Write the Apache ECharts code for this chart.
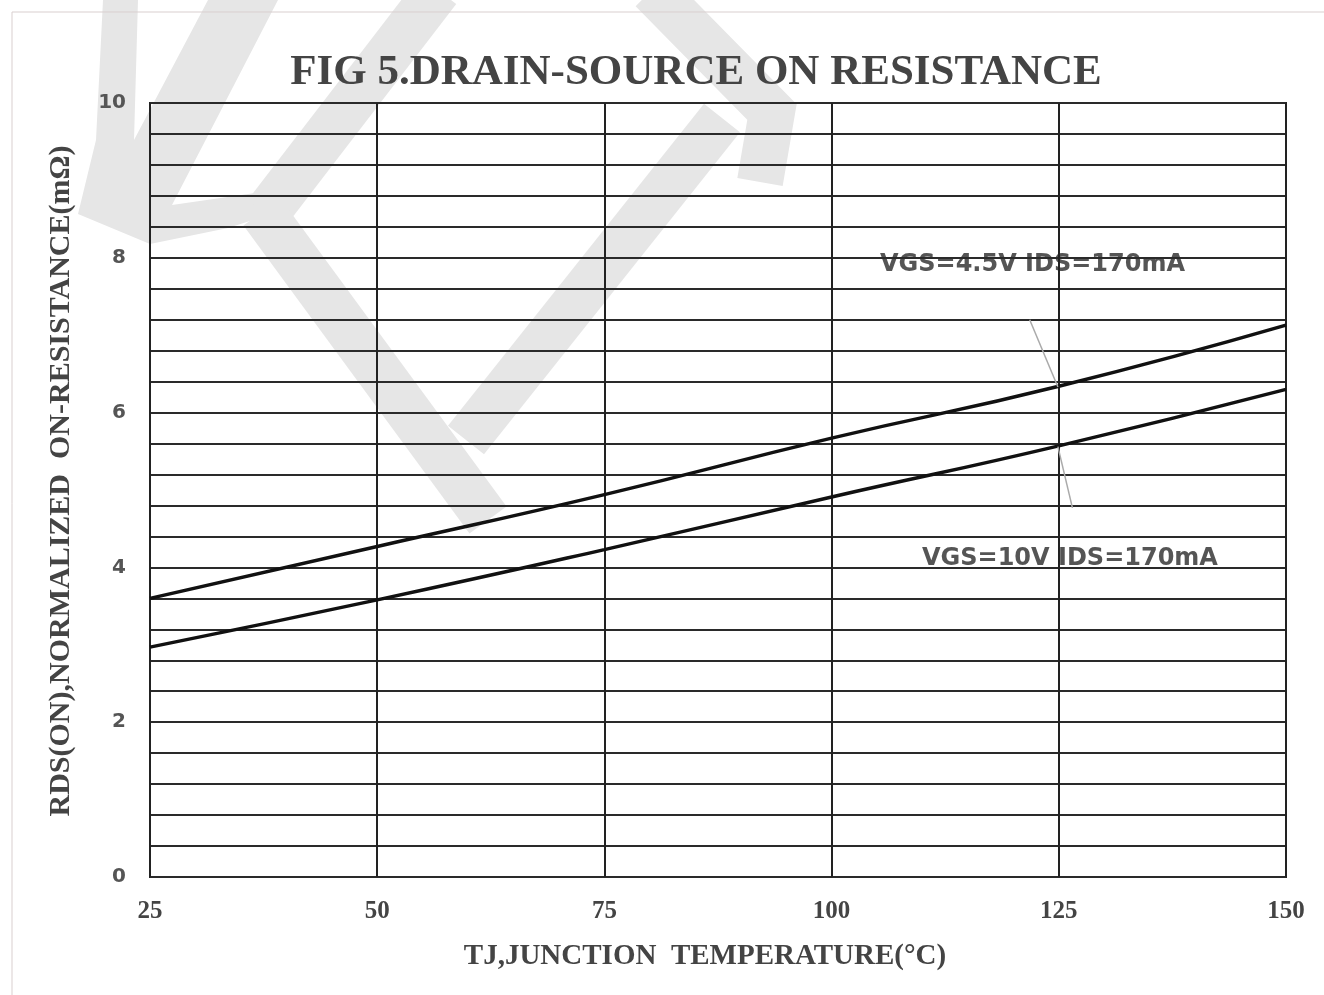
<!DOCTYPE html>
<html>
<head>
<meta charset="utf-8">
<title>FIG 5 Drain-Source On Resistance</title>
<script src="https://cdn.jsdelivr.net/npm/echarts@6/dist/echarts.min.js"></script>
<style>
  html, body { margin: 0; padding: 0; background: #fff; }
  #chart { width: 1324px; height: 995px; }
</style>
</head>
<body>
<div id="chart"></div>
<script>
// junction temperature (°C)
const temps = [25, 50, 75, 100, 125, 150]
// RDS(ON) (mΩ)
const rdsVgs45 = [3.60, 4.27, 4.94, 5.67, 6.34, 7.13]
const rdsVgs10 = [2.97, 3.58, 4.23, 4.91, 5.57, 6.30]
// leader lines from the labels to the curves
const leader45 = [[121.8, 7.20], [124.9, 6.33]]
const leader10 = [[124.9, 5.56], [126.5, 4.77]]

const yLabels = [0, 2, 4, 6, 8, 10]

const chart = echarts.init(document.getElementById('chart'))

const WM = '#e6e6e6'
// grey watermark behind the plot
const watermark = [
  [[103, 0], [138, 0], [134, 140], [208, 0], [278, 0], [172, 205], [262, 192], [300, 205], [228, 228], [150, 244], [78, 214], [96, 140]],
].map(pts => ({
  type: 'polygon', z: -5, silent: true,
  shape: { points: pts },
  style: { fill: WM }
})).concat([
  [[438, -10], [266, 214]],
  [[262, 212], [488, 520]],
  [[466, 440], [722, 118]],
  [[652, -10], [772, 112], [760, 182]],
].map(pts => ({
  type: 'polyline', z: -5, silent: true,
  shape: { points: pts },
  style: { stroke: WM, lineWidth: 46, lineJoin: 'miter', fill: null }
})))

const frame = [
  { type: 'line', z: -4, silent: true, shape: { x1: 12, y1: 12, x2: 1324, y2: 12 }, style: { stroke: '#d9cfcf', lineWidth: 1 } },
  { type: 'line', z: -4, silent: true, shape: { x1: 12, y1: 12, x2: 12, y2: 995 }, style: { stroke: '#d9cfcf', lineWidth: 1 } },
]

const noteFont = 'bold 24px "DejaVu Sans", Verdana, sans-serif'
const notes = [
  { type: 'text', z: -3, silent: true, style: { x: 880, y: 265, text: 'VGS=4.5V IDS=170mA', font: noteFont, fill: '#555', verticalAlign: 'middle' } },
  { type: 'text', z: -3, silent: true, style: { x: 922, y: 559, text: 'VGS=10V IDS=170mA', font: noteFont, fill: '#555', verticalAlign: 'middle' } },
  // the lower label is cut off by the grid line below it
  { type: 'rect', z: -2, silent: true, shape: { x: 918, y: 569, width: 300, height: 14 }, style: { fill: '#fff' } },
]

chart.setOption({
  animation: false,
  title: {
    text: 'FIG 5.DRAIN-SOURCE ON RESISTANCE',
    left: 691,
    textAlign: 'center',
    top: 46,
    textStyle: { fontFamily: '"Liberation Serif", "Times New Roman", serif', fontSize: 43, fontWeight: 'bold', color: '#444' }
  },
  grid: { left: 150, right: 38, top: 103, bottom: 118, show: true, borderColor: '#222', borderWidth: 2 },
  xAxis: {
    type: 'value', min: 25, max: 150, interval: 25,
    name: 'TJ,JUNCTION  TEMPERATURE(°C)',
    nameLocation: 'middle', nameGap: 65,
    nameTextStyle: { fontFamily: '"Liberation Serif", serif', fontSize: 29, fontWeight: 'bold', color: '#444', padding: [0, 26, 0, 0] },
    axisLine: { show: false },
    axisTick: { show: false },
    axisLabel: { margin: 22, fontFamily: '"Liberation Serif", serif', fontSize: 25, fontWeight: 'bold', color: '#444' },
    splitLine: { show: true, lineStyle: { color: '#222', width: 2 } }
  },
  yAxis: {
    type: 'value', min: 0, max: 10, interval: 0.4,
    name: 'RDS(ON),NORMALIZED  ON-RESISTANCE(mΩ)',
    nameLocation: 'middle', nameGap: 74,
    nameTextStyle: { fontFamily: '"Liberation Serif", serif', fontSize: 30, fontWeight: 'bold', color: '#444', padding: [0, 0, 0, 18] },
    axisLine: { show: false },
    axisTick: { show: false },
    axisLabel: {
      margin: 24,
      fontFamily: '"DejaVu Sans", Verdana, sans-serif', fontSize: 20, fontWeight: 'bold', color: '#555',
      formatter: v => {
        const r = Math.round(v)
        return Math.abs(v - r) < 1e-6 && yLabels.includes(r) ? String(r) : ''
      }
    },
    splitLine: { show: true, lineStyle: { color: '#2a2a2a', width: 2 } }
  },
  series: [
    {
      name: 'VGS=4.5V', type: 'line', smooth: true, symbol: 'none', z: 5,
      data: temps.map((t, i) => [t, rdsVgs45[i]]),
      lineStyle: { color: '#111', width: 3.5 }
    },
    {
      name: 'VGS=10V', type: 'line', smooth: true, symbol: 'none', z: 5,
      data: temps.map((t, i) => [t, rdsVgs10[i]]),
      lineStyle: { color: '#111', width: 3.5 }
    },
    {
      type: 'line', symbol: 'none', z: 6, silent: true,
      data: leader45, lineStyle: { color: '#aaa', width: 1.5 }
    },
    {
      type: 'line', symbol: 'none', z: 6, silent: true,
      data: leader10, lineStyle: { color: '#aaa', width: 1.5 }
    }
  ],
  graphic: watermark.concat(frame, notes)
})
</script>
</body>
</html>
